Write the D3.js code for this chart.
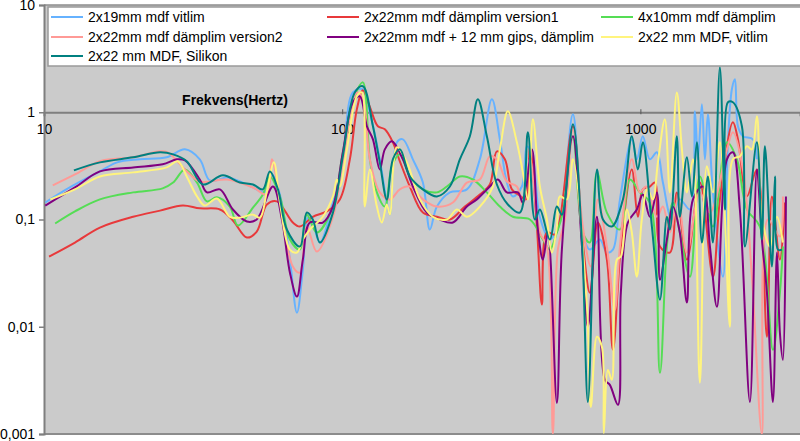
<!DOCTYPE html>
<html><head><meta charset="utf-8">
<script src="https://cdn.jsdelivr.net/npm/d3@7"></script>
<style>
body{margin:0;background:#fff}
svg{display:block}
text{font-family:"Liberation Sans",Arial,Helvetica,sans-serif}
</style>
</head><body>
<svg id="chart" width="800" height="441"></svg>
<script>
// ---------------- DATA ----------------
const seriesNames = [
  "2x19mm mdf vitlim",
  "2x22mm mdf dämplim version1",
  "4x10mm mdf dämplim",
  "2x22mm mdf dämplim version2",
  "2x22mm mdf + 12 mm gips, dämplim",
  "2x22 mm MDF, vitlim",
  "2x22 mm MDF, Silikon"
];
const seriesColors = ["#66b2ff","#e8393b","#55dd55","#ff9a96","#800080","#fff47e","#008080"];

const blueF = [10.1,12.2,15.4,17.6,21.0,25.8,29.7,33.3,36.0,41.1,45.4,50.2,55.0,58.1,61.8,66.8,70.5,73.8,76.7,80.4,84.2,93.1,100.5,108.6,117.3,123.8,133.7,141.1,144.5,152.5,159.8,172.6,186.5,196.8,207.8,229.7,261.9,289.5,317.7,337.9,356.7,373.6,400.5,416.2,436,460,497,537,594,641,677,731,772,809,854,936,973,1019,1076,1136,1190,1275,1356,1466,1524,1559,1608,1646,1684,1751,1892,1966,2027,2075,2124,2207,2385,2459];
const blueV = [0.144,0.199,0.281,0.341,0.364,0.380,0.451,0.364,0.231,0.246,0.226,0.199,0.179,0.263,0.171,0.0423,0.0135,0.0341,0.104,0.0841,0.0609,0.144,0.364,1.53,1.64,1.0,0.364,0.144,0.111,0.524,0.559,0.364,0.221,0.0806,0.132,0.179,0.191,0.364,1.32,0.559,0.221,0.164,0.203,0.481,0.364,0.106,0.065,0.1,0.958,0.0756,0.0524,0.065,0.0492,0.0524,0.154,0.559,0.364,0.597,0.364,0.423,0.221,0.1,0.154,0.124,1.02,0.364,1.19,0.364,0.958,0.179,0.0293,0.524,1.64,2.03,0.740,0.597,0.559,0.364];

const redF = [10.4,12.7,15.4,19.9,24.5,29.2,33.3,38.9,43.0,47.9,51.7,55.9,60.4,68.3,72.1,79.7,88.8,98.2,106.1,112.0,117.3,123.8,131.7,139.0,147.9,156.1,168.6,186.5,207.8,229.7,257.9,289.5,312.8,330.2,351.2,370.7,394.3,413.0,426.0,449.7,467.4,485.7,516.7,537,594,641,677,720,772,809,860,936,981,1019,1076,1119,1163,1256,1325,1432,1583,1751,1848,2043,2124,2277,2459,2657,2761,2937,3053];
const redV = [0.0451,0.061,0.0841,0.106,0.121,0.135,0.127,0.124,0.0979,0.0679,0.0772,0.138,0.1475,0.0937,0.086,0.106,0.119,0.154,0.364,1.07,1.60,1.12,0.740,0.694,0.524,0.349,0.203,0.116,0.106,0.1,0.132,0.171,0.212,0.432,0.364,0.191,0.167,0.154,0.481,0.086,0.0161,0.0756,0.0724,0.1,0.740,0.061,0.0208,0.0937,0.0423,0.0061,0.056,0.293,0.106,0.191,0.203,0.221,0.056,0.0492,0.179,0.0423,0.221,0.0293,0.154,0.806,0.559,0.164,0.293,0.00807,0.164,0.0423,0.144];

const greenF = [10.9,12.7,15.4,19.9,25.0,27.1,29.7,32.6,35.2,38.0,42.0,44.7,50.2,54.2,57.2,61.8,66.8,72.1,76.1,82.2,93.1,100.5,110.2,117.3,123.8,130.7,139.0,146.8,156.1,168.6,186.5,207.8,224.4,248.1,274.3,305.6,337.9,373.6,426.0,471.0,497.1,524.7,549.6,594,641,677,715,772,854,922,996,1076,1163,1227,1285,1356,1466,1583,1751,1951,2107,2277,2517,2783,2937,3006];
const greenV = [0.0917,0.119,0.154,0.179,0.195,0.221,0.293,0.221,0.1475,0.161,0.132,0.0879,0.129,0.171,0.252,0.164,0.065,0.0524,0.111,0.0756,0.132,0.423,1.41,1.90,0.364,0.179,0.132,0.313,0.405,0.252,0.191,0.179,0.203,0.252,0.236,0.179,0.132,0.106,0.1,0.065,0.0524,0.0756,0.116,0.597,0.0756,0.061,0.275,0.116,0.0806,0.236,0.179,0.144,0.00372,0.056,0.144,0.0756,0.0293,0.252,0.086,0.524,0.364,0.124,0.086,0.0061,0.0208,0.056];

const salmonF = [10.7,12.7,15.4,19.9,24.5,26.0,29.7,33.3,41.1,50.2,55.9,58.1,61.8,68.3,72.1,76.1,82.2,93.1,100.5,112.0,117.3,123.8,133.7,144.5,156.1,168.6,186.5,207.8,235.1,261.9,289.5,312.8,330.2,356.7,385.3,403.6,426,460.2,485.7,508.8,528.8,558.2,594,641,682,720,772,821,854,936,996,1045,1136,1190,1256,1336,1432,1583,1711,1951,2043,2207,2366,2556,2678,2937,3006];
const salmonV = [0.208,0.263,0.349,0.380,0.432,0.423,0.293,0.226,0.236,0.199,0.171,0.364,0.154,0.0364,0.0319,0.086,0.0502,0.106,0.341,1.53,1.32,0.364,0.179,0.154,0.191,0.203,0.154,0.132,0.144,0.221,0.236,0.388,0.364,0.226,0.203,0.138,0.364,0.0756,0.056,0.001,0.0524,0.1,0.694,0.086,0.0364,0.154,0.056,0.0144,0.056,0.364,0.179,0.203,0.106,0.132,0.0756,0.154,0.0492,0.179,0.116,0.451,0.650,0.293,0.0293,0.001,0.1,0.0694,0.164];

const purpleF = [10.1,12.7,15.4,19.9,25.0,27.9,29.7,33.3,35.2,38.9,43.0,47.9,51.7,58.6,62.8,66.8,70.5,73.8,77.9,86.1,93.1,100.5,108.6,114.6,121.0,126.8,133.7,139.0,146.8,159.8,172.6,192.3,212.5,235.1,261.9,282.9,312.8,332.7,356.7,388.3,403.6,432.6,453.2,471.0,489.5,524.7,545.4,594,637,667,715,760,790,841,860,908,973,1019,1076,1136,1163,1227,1285,1356,1432,1501,1620,1711,1806,1951,2043,2156,2330,2459,2556,2657,2783,2871,2937,3006,3077];
const purpleV = [0.135,0.199,0.281,0.306,0.327,0.364,0.356,0.236,0.179,0.191,0.124,0.0958,0.1,0.203,0.1,0.0319,0.0191,0.0423,0.0937,0.0937,0.132,0.423,1.24,1.41,0.740,0.559,0.293,0.451,0.536,0.364,0.203,0.116,0.1,0.0937,0.132,0.154,0.203,0.236,0.179,0.179,0.144,0.451,0.0806,0.0423,0.0756,0.00195,0.0524,0.597,0.056,0.01,0.106,0.0032,0.00287,0.00187,0.0208,0.0937,0.124,0.171,0.106,0.179,0.0275,0.065,0.132,0.0756,0.0168,0.154,0.203,0.056,0.0154,0.364,0.423,0.124,0.00199,0.293,0.065,0.0208,0.00199,0.0492,0.00879,0.00491,0.164];

const yellowF = [10.5,12.7,15.4,19.9,25.8,28.1,30.1,32.6,34.6,38.0,42.0,45.4,50.2,53.0,55.9,59.0,61.8,66.8,70.5,73.8,77.9,86.1,93.1,96.0,98.2,103.7,112.0,116.4,119.1,123.8,130.7,135.8,141.1,144.5,152.5,164.8,182.2,201.4,224.4,242.4,261.9,289.5,320.1,337.9,359.4,385.3,403.6,419.5,436,460.2,485.7,504.8,524.7,537,567,594,662,682,715,743,754,778,802,834,860,901,936,973,1011,1055,1101,1145,1208,1256,1325,1378,1432,1501,1583,1671,1751,1848,1996,2043,2156,2277,2366,2459,2556,2719,2871,3006];
const yellowV = [0.154,0.191,0.252,0.275,0.306,0.349,0.252,0.164,0.135,0.157,0.106,0.104,0.111,0.104,0.183,0.341,0.144,0.0524,0.0492,0.065,0.0806,0.106,0.164,0.236,0.203,0.451,1.41,1.53,0.132,0.293,0.132,0.0937,0.138,0.111,0.471,0.341,0.154,0.106,0.1,0.124,0.106,0.132,0.203,0.451,1.02,0.524,0.275,0.154,0.860,0.203,0.1,0.0492,0.086,0.164,0.154,0.364,0.0154,0.00179,0.00807,0.0065,0.00102,0.00396,0.0032,0.0423,0.0451,0.124,0.0756,0.0293,0.1,0.191,0.154,0.341,0.860,0.179,1.53,0.451,0.179,0.364,0.003,0.313,0.179,0.524,0.01,0.364,0.388,0.481,0.451,0.918,0.106,0.056,0.106,0.061];

const tealF = [12.6,15.4,19.9,24.5,27.1,30.1,34.1,39.8,45.4,50.2,54.2,57.2,60.9,65.2,72.1,76.1,79.7,84.2,93.1,100.5,110.2,117.3,126.8,133.7,141.1,147.9,156.1,168.6,186.5,207.8,229.7,248.1,268.0,285.1,305.6,330.2,359.4,394.3,419.5,442.8,460.2,497.1,524.7,545.4,594,637,667,715,749,802,874,936,981,1019,1093,1163,1227,1256,1325,1356,1432,1489,1547,1608,1684,1751,1848,1921,1966,2043,2190,2242,2459,2556,2616,2761,2827,2893,2983];
const tealV = [0.287,0.341,0.380,0.423,0.405,0.349,0.212,0.258,0.221,0.212,0.191,0.281,0.191,0.0806,0.056,0.116,0.1,0.061,0.116,0.388,1.53,1.75,0.740,0.341,0.154,0.364,0.451,0.252,0.191,0.164,0.203,0.364,0.597,1.32,0.597,0.212,0.138,0.116,0.650,0.1,0.124,0.065,0.132,0.111,0.772,0.061,0.00199,0.293,0.1,0.086,0.154,0.597,0.293,0.524,0.086,0.0179,0.106,0.0806,0.597,0.106,0.380,0.164,0.524,0.061,0.252,0.061,2.63,0.124,1.24,1.24,0.740,0.056,0.524,0.065,0.481,0.0364,0.252,0.0524,0.0524];

const xTickValues = [10, 100, 1000];
const xTickLabels = ["10", "100", "1000"];
const yTickValues = [0.001, 0.01, 0.1, 1, 10];
const yTickLabels = ["0,001", "0,01", "0,1", "1", "10"];
const xTitle = "Frekvens(Hertz)";

// ---------------- CHART ----------------
const seriesData = [
  [blueF, blueV], [redF, redV], [greenF, greenV], [salmonF, salmonV],
  [purpleF, purpleV], [yellowF, yellowV], [tealF, tealV]
].map(([f, v]) => f.map((d, i) => ({f: d, v: v[i]})).filter(d => d.v !== undefined));

const svg = d3.select("#chart");
const L = 44, R = 800, T = 5, B = 434;
const x = d3.scaleLog().domain([10, 3430]).range([L, R]);
const y = d3.scaleLog().domain([0.001, 10]).range([B, T]);

// plot area
svg.append("rect").attr("x", L).attr("y", T).attr("width", R - L).attr("height", B - T)
  .attr("fill", "#cbcbcb");
svg.append("line").attr("x1", L).attr("x2", R).attr("y1", B).attr("y2", B)
  .attr("stroke", "#8c8c8c").attr("stroke-width", 2);
svg.append("line").attr("x1", L).attr("x2", R).attr("y1", T).attr("y2", T)
  .attr("stroke", "#8c8c8c").attr("stroke-width", 1.5);

// x axis crossing at 1
const xAxis = d3.axisBottom(x).tickValues(xTickValues)
  .tickFormat((d, i) => xTickLabels[i]).tickSize(4).tickPadding(8);
const gx = svg.append("g").attr("transform", `translate(0,${y(1)})`).call(xAxis);
gx.select(".domain").attr("stroke", "#7f7f7f").attr("stroke-width", 2);
gx.selectAll(".tick line").attr("stroke", "#555").attr("y1", -3).attr("y2", 2);
gx.selectAll(".tick text").attr("font-size", 14).attr("fill", "#000")
  .attr("font-family", '"Liberation Sans",Arial,sans-serif');

// y axis
const yAxis = d3.axisLeft(y).tickValues(yTickValues)
  .tickFormat((d, i) => yTickLabels[i]).tickSize(5).tickPadding(4);
const gy = svg.append("g").attr("transform", `translate(${L},0)`).call(yAxis);
gy.select(".domain").attr("stroke", "#7f7f7f").attr("stroke-width", 2);
gy.selectAll(".tick line").attr("stroke", "#7f7f7f").attr("stroke-width", 1.5);
gy.selectAll(".tick text").attr("font-size", 14).attr("fill", "#000")
  .attr("font-family", '"Liberation Sans",Arial,sans-serif');

// axis title
svg.append("text").attr("x", 235).attr("y", 105).attr("text-anchor", "middle")
  .attr("font-size", 14).attr("font-weight", "bold").text(xTitle);

// series
svg.append("clipPath").attr("id", "clip").append("rect")
  .attr("x", L).attr("y", T).attr("width", R - L).attr("height", B - T);
const line = d3.line().x(d => x(d.f)).y(d => y(d.v)).curve(d3.curveCatmullRom.alpha(0.5));
const gl = svg.append("g").attr("clip-path", "url(#clip)");
seriesData.forEach((s, i) => {
  gl.append("path").datum(s).attr("d", line).attr("fill", "none")
    .attr("stroke", seriesColors[i]).attr("stroke-width", 2)
    .attr("stroke-linejoin", "round");
});

// legend
const lg = svg.append("g");
lg.append("rect").attr("x", 48).attr("y", 7).attr("width", 760).attr("height", 59)
  .attr("fill", "#fff").attr("stroke", "#9a9a9a").attr("stroke-width", 1.5);
const colX = [51, 327, 601];
const rowY = [17, 37, 56];
seriesNames.forEach((name, i) => {
  const cx = colX[i % 3], cy = rowY[Math.floor(i / 3)];
  lg.append("line").attr("x1", cx).attr("x2", cx + 32).attr("y1", cy).attr("y2", cy)
    .attr("stroke", seriesColors[i]).attr("stroke-width", 2);
  lg.append("text").attr("x", cx + 37).attr("y", cy).attr("dy", "0.35em")
    .attr("font-size", 14).attr("fill", "#000").text(name);
});
</script>
</body></html>
